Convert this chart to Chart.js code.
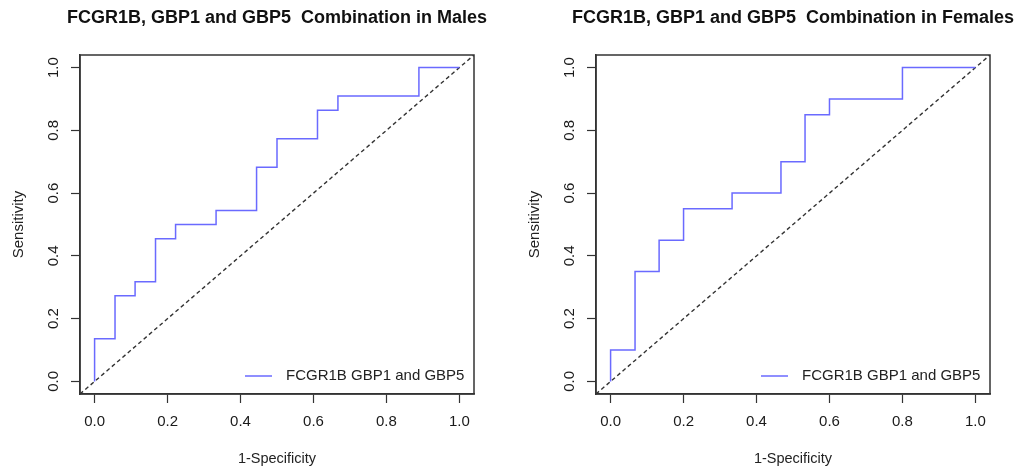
<!DOCTYPE html>
<html>
<head>
<meta charset="utf-8">
<script src="https://cdn.jsdelivr.net/npm/chart.js"></script>
<style>
	body{margin:0;background:#fff;}
	canvas{position:absolute;top:0;}
	#males{left:0;}
	#females{left:516px;}
</style>
</head>
<body>
<canvas id="males" width="509" height="472"></canvas>
<canvas id="females" width="503" height="472"></canvas>
<script>
// ROC points (1-specificity, sensitivity)
var maleFpr = [0, 0, 0.056, 0.056, 0.111, 0.111, 0.167, 0.167, 0.222, 0.222, 0.333, 0.333, 0.444, 0.444, 0.5, 0.5, 0.611, 0.611, 0.667, 0.667, 0.889, 0.889, 1];
var maleTpr = [0, 0.136, 0.136, 0.273, 0.273, 0.318, 0.318, 0.455, 0.455, 0.5, 0.5, 0.545, 0.545, 0.682, 0.682, 0.773, 0.773, 0.864, 0.864, 0.909, 0.909, 1, 1];

var femaleFpr = [0, 0, 0.067, 0.067, 0.133, 0.133, 0.2, 0.2, 0.333, 0.333, 0.467, 0.467, 0.533, 0.533, 0.6, 0.6, 0.8, 0.8, 1];
var femaleTpr = [0, 0.1, 0.1, 0.35, 0.35, 0.45, 0.45, 0.55, 0.55, 0.6, 0.6, 0.7, 0.7, 0.85, 0.85, 0.9, 0.9, 1, 1];

var xTicks = [0, 0.2, 0.4, 0.6, 0.8, 1.0];
var yTicks = [0, 0.2, 0.4, 0.6, 0.8, 1.0];
var refLine = [-0.04, 1.04];
var seriesLabel = "FCGR1B GBP1 and GBP5";

var FONT = "'Liberation Sans', Arial, Helvetica, sans-serif";
var INK = "#333";

// box around plot region, like R's box()
var boxPlugin = {
	id: "box",
	afterDraw: function(chart){
		var a = chart.chartArea, ctx = chart.ctx;
		ctx.save();
		ctx.strokeStyle = INK;
		ctx.lineWidth = 1.5;
		ctx.strokeRect(a.left, a.top, a.right - a.left, a.bottom - a.top);
		ctx.restore();
	}
};

// main title centred over the plot region (R's title() is wider than the box)
var rTitle = {
	id: "rTitle",
	afterDraw: function(chart, args, opts){
		var a = chart.chartArea, ctx = chart.ctx;
		ctx.save();
		ctx.fillStyle = "#111";
		ctx.font = "bold 18px " + FONT;
		ctx.textAlign = "center";
		ctx.textBaseline = "middle";
		ctx.fillText(opts.text, (a.left + a.right) / 2, 18.5);
		ctx.restore();
	}
};

// R style legend in the bottom right corner, no frame
var rLegend = {
	id: "rLegend",
	afterDraw: function(chart){
		var a = chart.chartArea, ctx = chart.ctx;
		var ds = chart.data.datasets[0];
		var y = a.bottom - 18;
		ctx.save();
		ctx.strokeStyle = ds.borderColor;
		ctx.lineWidth = 1.5;
		ctx.beginPath();
		ctx.moveTo(a.right - 229, y);
		ctx.lineTo(a.right - 202, y);
		ctx.stroke();
		ctx.fillStyle = "#222";
		ctx.font = "15px " + FONT;
		ctx.textBaseline = "middle";
		ctx.textAlign = "left";
		ctx.fillText(ds.label, a.right - 188, y);
		ctx.restore();
	}
};

function makeChart(id, title, fpr, tpr){
	var pts = [];
	for (var i in fpr){
		pts.push({x: fpr[i], y: tpr[i]});
	}
	var diag = [];
	for (var j in refLine){
		diag.push({x: refLine[j], y: refLine[j]});
	}
	var canvas = document.getElementById(id);

	return new Chart(canvas, {
		type: "line",
		data: {
			datasets: [
			{
				label: seriesLabel,
				data: pts,
				borderColor: "#6a6aff",
				borderWidth: 1.5,
				pointRadius: 0,
				tension: 0,
				fill: false
			},
			{
				label: "ref",
				data: diag,
				borderColor: "#333",
				borderWidth: 1.4,
				borderDash: [4, 3],
				pointRadius: 0,
				fill: false
			}
			]
		},
		options: {
			responsive: false,
			animation: false,
			devicePixelRatio: 1,
			layout: {padding: {left: 0, top: 55, bottom: 0, right: canvas.width - 474}},
			plugins: {
				legend: {display: false},
				tooltip: {enabled: false},
				title: {display: false},
				rTitle: {text: title}
			},
			scales: {
				x: {
					type: "linear",
					min: -0.04,
					max: 1.04,
					afterBuildTicks: function(s){ s.ticks = xTicks.map(function(v){ return {value: v}; }); },
					afterFit: function(s){ s.height = 78; },
					grid: {drawOnChartArea: false, drawTicks: true, tickLength: 9, tickColor: INK, tickWidth: 1.2},
					border: {display: true, color: INK, width: 1.5},
					ticks: {
						color: "#1a1a1a",
						padding: 10,
						maxRotation: 0,
						font: {family: FONT, size: 15},
						callback: function(v){ return v.toFixed(1); }
					},
					title: {
						display: true,
						text: "1-Specificity",
						color: "#222",
						font: {family: FONT, size: 14.5},
						padding: {top: 0, bottom: 4}
					}
				},
				y: {
					type: "linear",
					min: -0.04,
					max: 1.04,
					afterBuildTicks: function(s){ s.ticks = yTicks.map(function(v){ return {value: v}; }); },
					afterFit: function(s){ s.width = 80; },
					grid: {drawOnChartArea: false, drawTicks: true, tickLength: 9, tickColor: INK, tickWidth: 1.2},
					border: {display: true, color: INK, width: 1.5},
					ticks: {
						color: "#1a1a1a",
						padding: 7,
						minRotation: 90,
						maxRotation: 90,
						crossAlign: "center",
						font: {family: FONT, size: 15},
						callback: function(v){ return v.toFixed(1); }
					},
					title: {
						display: true,
						text: "Sensitivity",
						color: "#222",
						font: {family: FONT, size: 15},
						padding: {top: 10, bottom: 0}
					}
				}
			}
		},
		plugins: [boxPlugin, rTitle, rLegend]
	});
}

makeChart("males", "FCGR1B, GBP1 and GBP5  Combination in Males", maleFpr, maleTpr);
makeChart("females", "FCGR1B, GBP1 and GBP5  Combination in Females", femaleFpr, femaleTpr);
</script>
</body>
</html>
